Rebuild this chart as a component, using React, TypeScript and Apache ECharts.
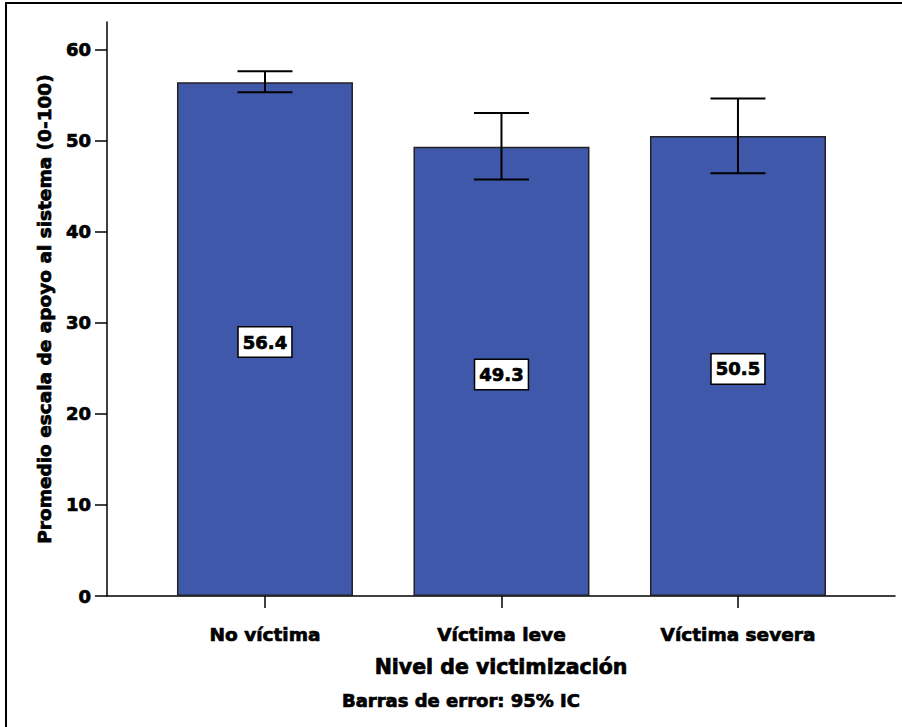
import React, { useEffect, useRef } from "react";
import * as echarts from "echarts";

const categories = ["No víctima", "Víctima leve", "Víctima severa"];
const means = [56.4, 49.3, 50.5];
const ciLower = [55.3, 45.7, 46.4];
const ciUpper = [57.6, 53.0, 54.6];
const yTicks = [0, 10, 20, 30, 40, 50, 60];
const xPositions = [0, 1, 2];

const FONT = "DejaVu Sans";
const heavy = { textBorderColor: "#000", textBorderWidth: 0.7 };

export default function App() {
  const ref = useRef<HTMLDivElement>(null);
  useEffect(() => {
    if (!ref.current) return;
    const chart = echarts.init(ref.current, null, { renderer: "svg" });
    const barData = means.map((v, i) => [xPositions[i], v]);
    const errData = means.map((_, i) => [xPositions[i], ciLower[i], ciUpper[i]]);
    chart.setOption({
      animation: false,
      backgroundColor: "#ffffff",
      textStyle: { fontFamily: FONT },
      grid: { left: 107, right: 7, top: 22, bottom: 131, containLabel: false },
      xAxis: {
        type: "value",
        min: -0.668,
        max: 2.664,
        name: "Nivel de victimización",
        nameLocation: "middle",
        nameGap: 60,
        nameTextStyle: { fontFamily: FONT, fontWeight: "bold", fontSize: 20.5, color: "#000", ...heavy },
        axisLine: { show: true, onZero: false, lineStyle: { color: "#000", width: 1.5 } },
        axisTick: { show: true, customValues: xPositions, length: 12, inside: false, lineStyle: { color: "#000", width: 1.5 } },
        axisLabel: {
          customValues: xPositions,
          formatter: (v: number) => categories[Math.round(v)] ?? "",
          fontFamily: FONT,
          fontWeight: "bold",
          fontSize: 18.5,
          color: "#000",
          margin: 29,
          ...heavy,
        },
        splitLine: { show: false },
      },
      yAxis: {
        type: "value",
        min: 0,
        max: 63,
        name: "Promedio escala de apoyo al sistema (0-100)",
        nameLocation: "middle",
        nameGap: 48,
        nameRotate: 90,
        nameTextStyle: { fontFamily: FONT, fontWeight: "bold", fontSize: 18.5, color: "#000", ...heavy },
        axisLine: { show: true, onZero: false, lineStyle: { color: "#000", width: 1.5 } },
        axisTick: { show: true, customValues: yTicks, length: 12, lineStyle: { color: "#000", width: 1.5 } },
        axisLabel: {
          customValues: yTicks,
          fontFamily: FONT,
          fontWeight: "bold",
          fontSize: 18,
          color: "#000",
          margin: 16,
          ...heavy,
        },
        splitLine: { show: false },
      },
      series: [
        {
          type: "bar",
          data: barData,
          barWidth: 176,
          itemStyle: { color: "#3F58AA", borderColor: "#222", borderWidth: 1.5 },
          label: {
            show: true,
            position: "inside",
            offset: [0, 3],
            formatter: (p: any) => Number(p.value[1]).toFixed(1),
            fontFamily: FONT,
            fontWeight: "bold",
            fontSize: 18,
            color: "#000",
            backgroundColor: "#fff",
            borderColor: "#000",
            borderWidth: 1.5,
            padding: [6, 4, 5, 4],
            ...heavy,
          },
        },
        {
          type: "custom",
          data: errData,
          z: 10,
          renderItem: (params: any, api: any) => {
            const x = api.value(0);
            const lo = api.coord([x, api.value(1)]);
            const hi = api.coord([x, api.value(2)]);
            const half = 27.5;
            const style = { stroke: "#000", lineWidth: 2 };
            return {
              type: "group",
              children: [
                { type: "line", shape: { x1: lo[0], y1: lo[1], x2: hi[0], y2: hi[1] }, style },
                { type: "line", shape: { x1: lo[0] - half, y1: lo[1], x2: lo[0] + half, y2: lo[1] }, style },
                { type: "line", shape: { x1: hi[0] - half, y1: hi[1], x2: hi[0] + half, y2: hi[1] }, style },
              ],
            };
          },
        },
      ],
      graphic: [
        {
          type: "rect",
          shape: { x: 6, y: 3, width: 910, height: 740 },
          style: { fill: "none", stroke: "#000", lineWidth: 2 },
          silent: true,
        },
        {
          type: "text",
          x: 461,
          y: 700,
          style: {
            text: "Barras de error: 95% IC",
            fontFamily: FONT,
            fontWeight: "bold",
            fontSize: 18,
            fill: "#000",
            stroke: "#000",
            lineWidth: 0.7,
            align: "center",
            verticalAlign: "middle",
          },
        },
      ],
    });
    return () => chart.dispose();
  }, []);
  return (
    <div
      ref={ref}
      style={{ position: "fixed", left: 0, top: 0, width: 902, height: 727 }}
    />
  );
}
